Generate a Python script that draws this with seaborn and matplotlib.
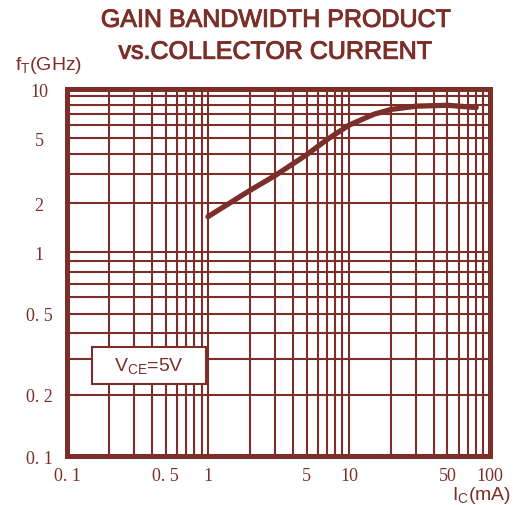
import numpy as np
import pandas as pd
import matplotlib
matplotlib.use('Agg')
import matplotlib.pyplot as plt
import matplotlib.patheffects as pe
from matplotlib.patches import Rectangle
from matplotlib.ticker import FixedLocator, NullFormatter
import seaborn as sns

# data (VCE = 5V)
ic_ma = [1, 2, 3, 5, 7, 10, 15, 20, 30, 50, 80]
ft_ghz = [1.65, 2.4, 2.95, 3.95, 4.9, 6.0, 7.0, 7.5, 7.85, 7.95, 7.7]

x_ticks = [0.1, 0.5, 1, 5, 10, 50, 100]
x_labels = ['0. 1', '0. 5', '1', '5', '10', '50', '100']
y_ticks = [0.1, 0.2, 0.5, 1, 2, 5, 10]
y_labels = ['0. 1', '0. 2', '0. 5', '1', '2', '5', '10']

COL = '#7b2f28'

sns.set_style('white')
plt.rcParams['font.family'] = ['Liberation Sans', 'DejaVu Sans']

df = pd.DataFrame({'ic': ic_ma, 'ft': ft_ghz})

fig = plt.figure(figsize=(5.13, 5.06), dpi=100)
ax = fig.add_axes([0.1306, 0.0968, 0.8244, 0.7253])


# the printed chart gives the lower decade more room than the upper one
def fwd(v):
    with np.errstate(divide='ignore', invalid='ignore'):
        l = np.log10(np.clip(v, 1e-9, None))
    return np.where(l < 0, 1.25 * l, l)


def inv(u):
    u = np.asarray(u, dtype=float)
    return np.where(u < 0, 10 ** (u / 1.25), 10 ** u)


ax.set_xscale('log')
ax.set_yscale('function', functions=(fwd, inv))

sns.lineplot(data=df, x='ic', y='ft', ax=ax, color=COL, lw=3.8,
             estimator=None, solid_capstyle='round', zorder=4)

ax.set_xlim(0.1, 100)
ax.set_ylim(0.1, 10)

minor = [m * 10.0 ** e for e in (-1, 0, 1) for m in range(1, 10)]
ax.xaxis.set_major_locator(FixedLocator(x_ticks))
ax.xaxis.set_minor_locator(FixedLocator(minor))
ax.xaxis.set_minor_formatter(NullFormatter())
ax.set_xticklabels(x_labels)
ax.yaxis.set_major_locator(FixedLocator(y_ticks))
ax.yaxis.set_minor_locator(FixedLocator([m for m in minor if m <= 10]))
ax.yaxis.set_minor_formatter(NullFormatter())
ax.set_yticklabels(y_labels)

ax.grid(True, which='both', color=COL, lw=1.5)
ax.tick_params(which='both', length=0, labelcolor=COL, labelsize=13)
ax.tick_params(axis='y', pad=20)
ax.tick_params(axis='x', pad=8)
for t in ax.get_yticklabels():
    t.set_horizontalalignment('center')
for t in ax.get_xticklabels() + ax.get_yticklabels():
    t.set_family('Liberation Serif')
for s in ax.spines.values():
    s.set_color(COL)
    s.set_linewidth(3.6)
ax.set_xlabel('')
ax.set_ylabel('')

# VCE box
ax.add_patch(Rectangle((0.059, 0.196), 0.27, 0.101, transform=ax.transAxes,
                       facecolor='white', edgecolor=COL, lw=1.5, zorder=5))
ax.text(0.194, 0.246, 'V$_{\\mathregular{CE}}$=5V', transform=ax.transAxes,
        ha='center', va='center', fontsize=14, color=COL, zorder=6)

# title: regular weight, thickened a little to match the print
thick = [pe.withStroke(linewidth=0.7, foreground=COL)]
fig.text(0.537, 0.945, 'GAIN BANDWIDTH PRODUCT', ha='center', va='baseline',
         fontsize=18, color=COL, path_effects=thick)
fig.text(0.536, 0.882, 'vs.COLLECTOR CURRENT', ha='center', va='baseline',
         fontsize=18, color=COL, path_effects=thick)
fig.text(0.03, 0.871, 'f$_{\\mathregular{T}}$(GHz)', ha='left', va='center',
         fontsize=14, color=COL)
fig.text(0.997, 0.02, 'I$_{\\mathregular{C}}$(mA)', ha='right', va='center',
         fontsize=14, color=COL)

fig.savefig('out.png', dpi=100)
